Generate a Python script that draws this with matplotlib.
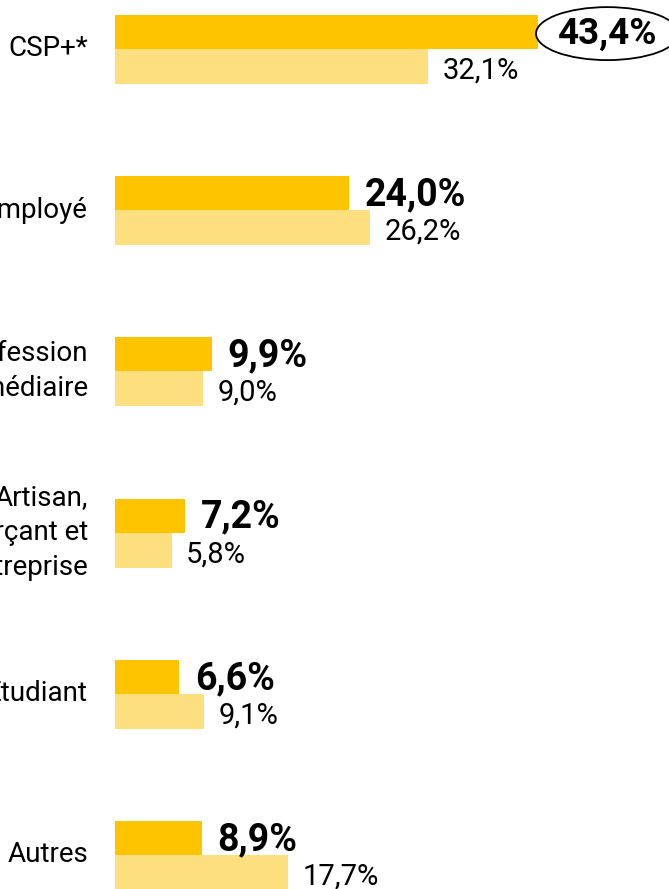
import matplotlib
matplotlib.use("Agg")
import matplotlib.pyplot as plt

# Data
categories = ["CSP+*", "Employé", "Profession\nintermédiaire",
              "Artisan,\ncommerçant et\nchef d'entreprise", "Étudiant", "Autres"]
series_main = [43.4, 24.0, 9.9, 7.2, 6.6, 8.9]
series_ref = [32.1, 26.2, 9.0, 5.8, 9.1, 17.7]

DARK = "#FEC400"
LIGHT = "#FEDF80"

plt.rcParams["font.family"] = ["Roboto", "DejaVu Sans"]

W, H = 669, 889
fig = plt.figure(figsize=(W / 100, H / 100), dpi=100)
left_px = 115
ax = fig.add_axes([left_px / W, 0, 1 - left_px / W, 1])

px_per_unit = 9.75
ax.set_xlim(0, (W - left_px) / px_per_unit)
pitch = 161.2
ax.set_ylim(5 + (H - 855) / pitch, -49 / pitch)

h_dark = 34 / pitch
h_light = 35 / pitch
fmt = lambda v: f"{v:.1f}%".replace(".", ",")

for i, (cat, a, b) in enumerate(zip(categories, series_main, series_ref)):
    ax.barh(i - h_dark / 2, a, height=h_dark, color=DARK, linewidth=0)
    ax.barh(i + h_light / 2, b, height=h_light, color=LIGHT, linewidth=0)
    if i == 0:
        ax.text(a + 2.0, i - h_dark / 2 + 0.01, fmt(a), fontsize=26.5, fontweight="bold",
                ha="left", va="center",
                bbox=dict(boxstyle="ellipse,pad=0.02", fc="white", ec="black", lw=1.3))
    else:
        ax.text(a + 1.6, i - h_dark / 2 + 0.01, fmt(a), fontsize=27, fontweight="bold",
                ha="left", va="center")
    ax.text(b + 1.5, i + h_light / 2 + 0.025, fmt(b), fontsize=21,
            ha="left", va="center")
    ax.text(-27 / px_per_unit, i, cat, fontsize=20, ha="right", va="center",
            linespacing=1.38, clip_on=False)

ax.axis("off")
fig.savefig("out.png", dpi=100)
